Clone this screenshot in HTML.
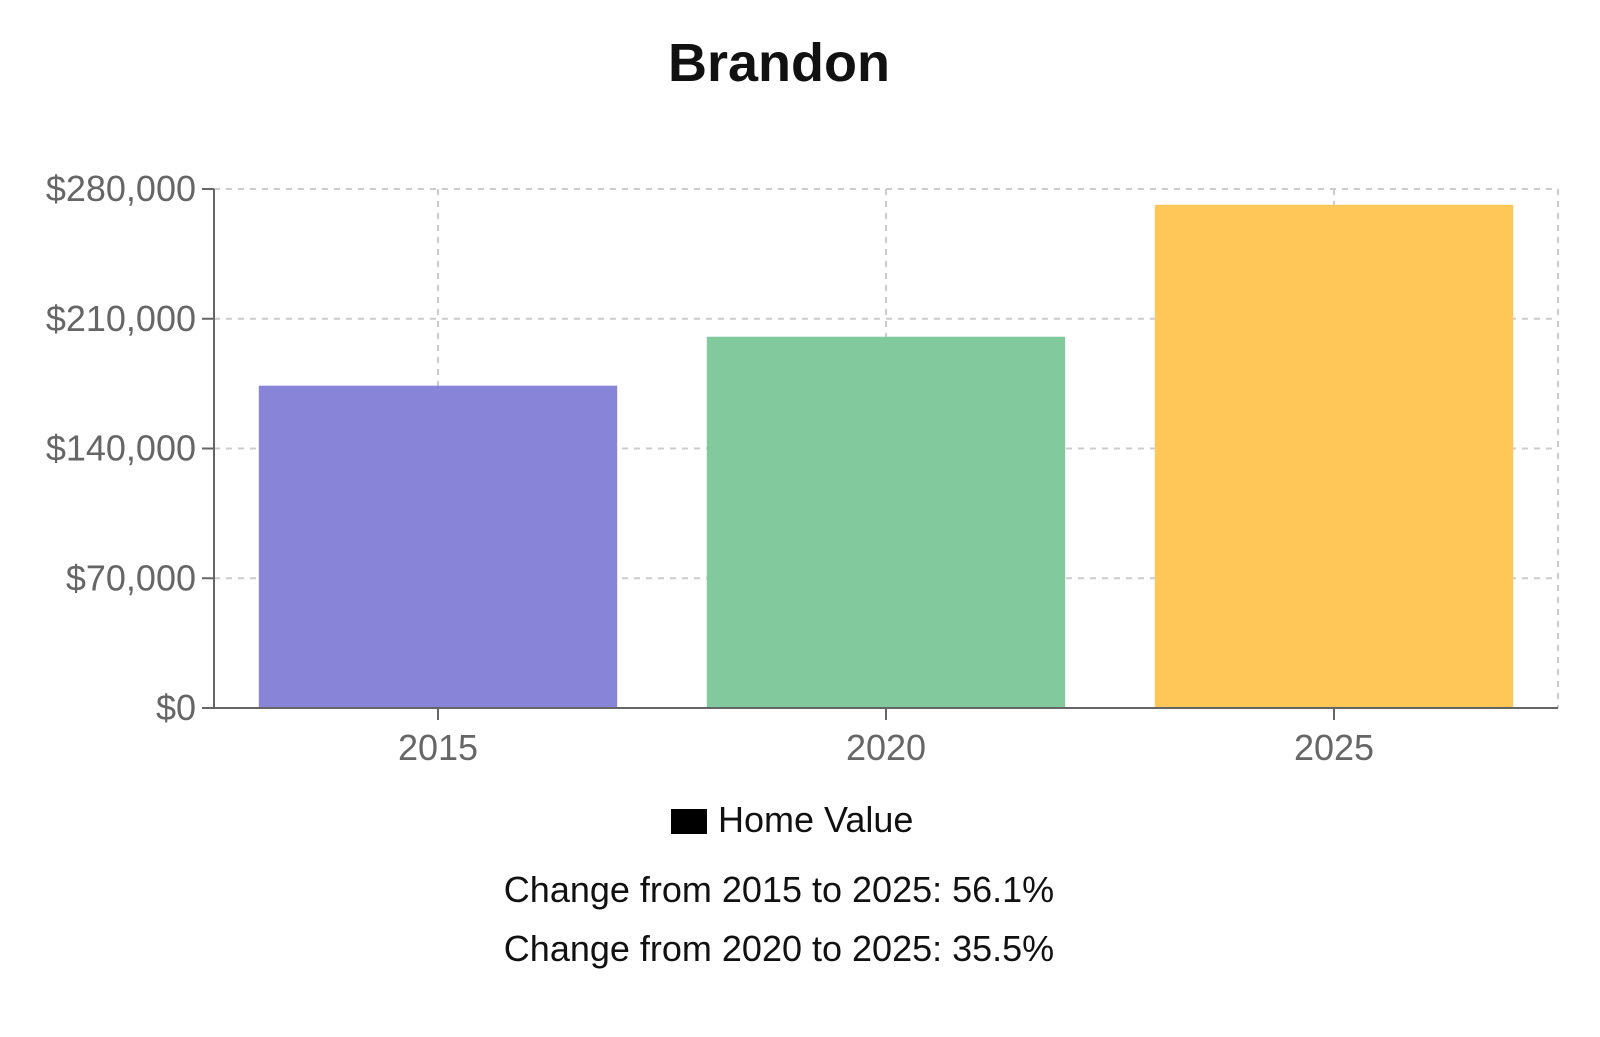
<!DOCTYPE html>
<html><head><meta charset="utf-8"><style>
html,body{margin:0;padding:0;background:#fff;width:1600px;height:1037px;overflow:hidden}
svg text{font-family:"Liberation Sans",Arial,sans-serif}
</style></head><body>
<svg id="chart" width="1600" height="1037" viewBox="0 0 1600 1037">
<text x="779" y="81" text-anchor="middle" font-size="54" font-weight="bold" fill="#111">Brandon</text>
<g id="grid"></g><g id="bars"></g><g id="axes"></g>
<g>
<rect x="671" y="809" width="36" height="25" fill="#000"/>
<text x="718" y="832" font-size="36" fill="#111">Home Value</text>
</g>
<text x="779" y="902" text-anchor="middle" font-size="36" fill="#111">Change from 2015 to 2025: 56.1%</text>
<text x="779" y="961" text-anchor="middle" font-size="36" fill="#111">Change from 2020 to 2025: 35.5%</text>
</svg>
<script>
const categories = ["2015","2020","2025"];
const values = [173900, 200300, 271500];
const colors = ["#8884d8","#82ca9d","#ffc658"];
const yTicks = [0,70000,140000,210000,280000];
const yTickLabels = ["$0","$70,000","$140,000","$210,000","$280,000"];

const NS="http://www.w3.org/2000/svg";
const L=214,R=1558,T=189,B=708,yMax=280000;
const band=(R-L)/categories.length;
const y=v=>B-(v/yMax)*(B-T);
const xc=i=>L+band*(i+0.5);
function mk(tag,attrs,parent){const e=document.createElementNS(NS,tag);for(const k in attrs)e.setAttribute(k,attrs[k]);parent.appendChild(e);return e;}
const grid=document.getElementById('grid'),bars=document.getElementById('bars'),axes=document.getElementById('axes');
yTicks.forEach((t,i)=>{
  const g=mk('line',{x1:L,x2:R,y1:y(t),y2:y(t),stroke:'#ccc','stroke-width':2,'stroke-dasharray':'6 6'},grid);
  
  
  const tk=mk('line',{x1:L-12,x2:L,y1:y(t),y2:y(t),stroke:'#666','stroke-width':2},axes);
  
  
  const lb=mk('text',{x:L-18,y:y(t)+12,'text-anchor':'end','font-size':36,fill:'#666'},axes);
  lb.textContent=yTickLabels[i];
  
  
});
categories.forEach((c,i)=>{
  const g=mk('line',{x1:xc(i),x2:xc(i),y1:T,y2:B,stroke:'#ccc','stroke-width':2,'stroke-dasharray':'6 6'},grid);
  
  
});
const rg=mk('line',{x1:R,x2:R,y1:T,y2:B,stroke:'#ccc','stroke-width':2,'stroke-dasharray':'6 6'},grid);


const bw=band*0.8;
values.forEach((v,i)=>{
  const r=mk('rect',{x:xc(i)-bw/2,y:y(v),width:bw,height:B-y(v),fill:colors[i]},bars);
  
  
});
const ya=mk('line',{x1:L,x2:L,y1:T,y2:B,stroke:'#666','stroke-width':2},axes);


const xa=mk('line',{x1:L,x2:R,y1:B,y2:B,stroke:'#666','stroke-width':2},axes);


categories.forEach((c,i)=>{
  const tk=mk('line',{x1:xc(i),x2:xc(i),y1:B,y2:B+12,stroke:'#666','stroke-width':2},axes);
  
  
  const lb=mk('text',{x:xc(i),y:B+52,'text-anchor':'middle','font-size':36,fill:'#666'},axes);
  lb.textContent=c;
  
  
});
</script>
</body></html>
